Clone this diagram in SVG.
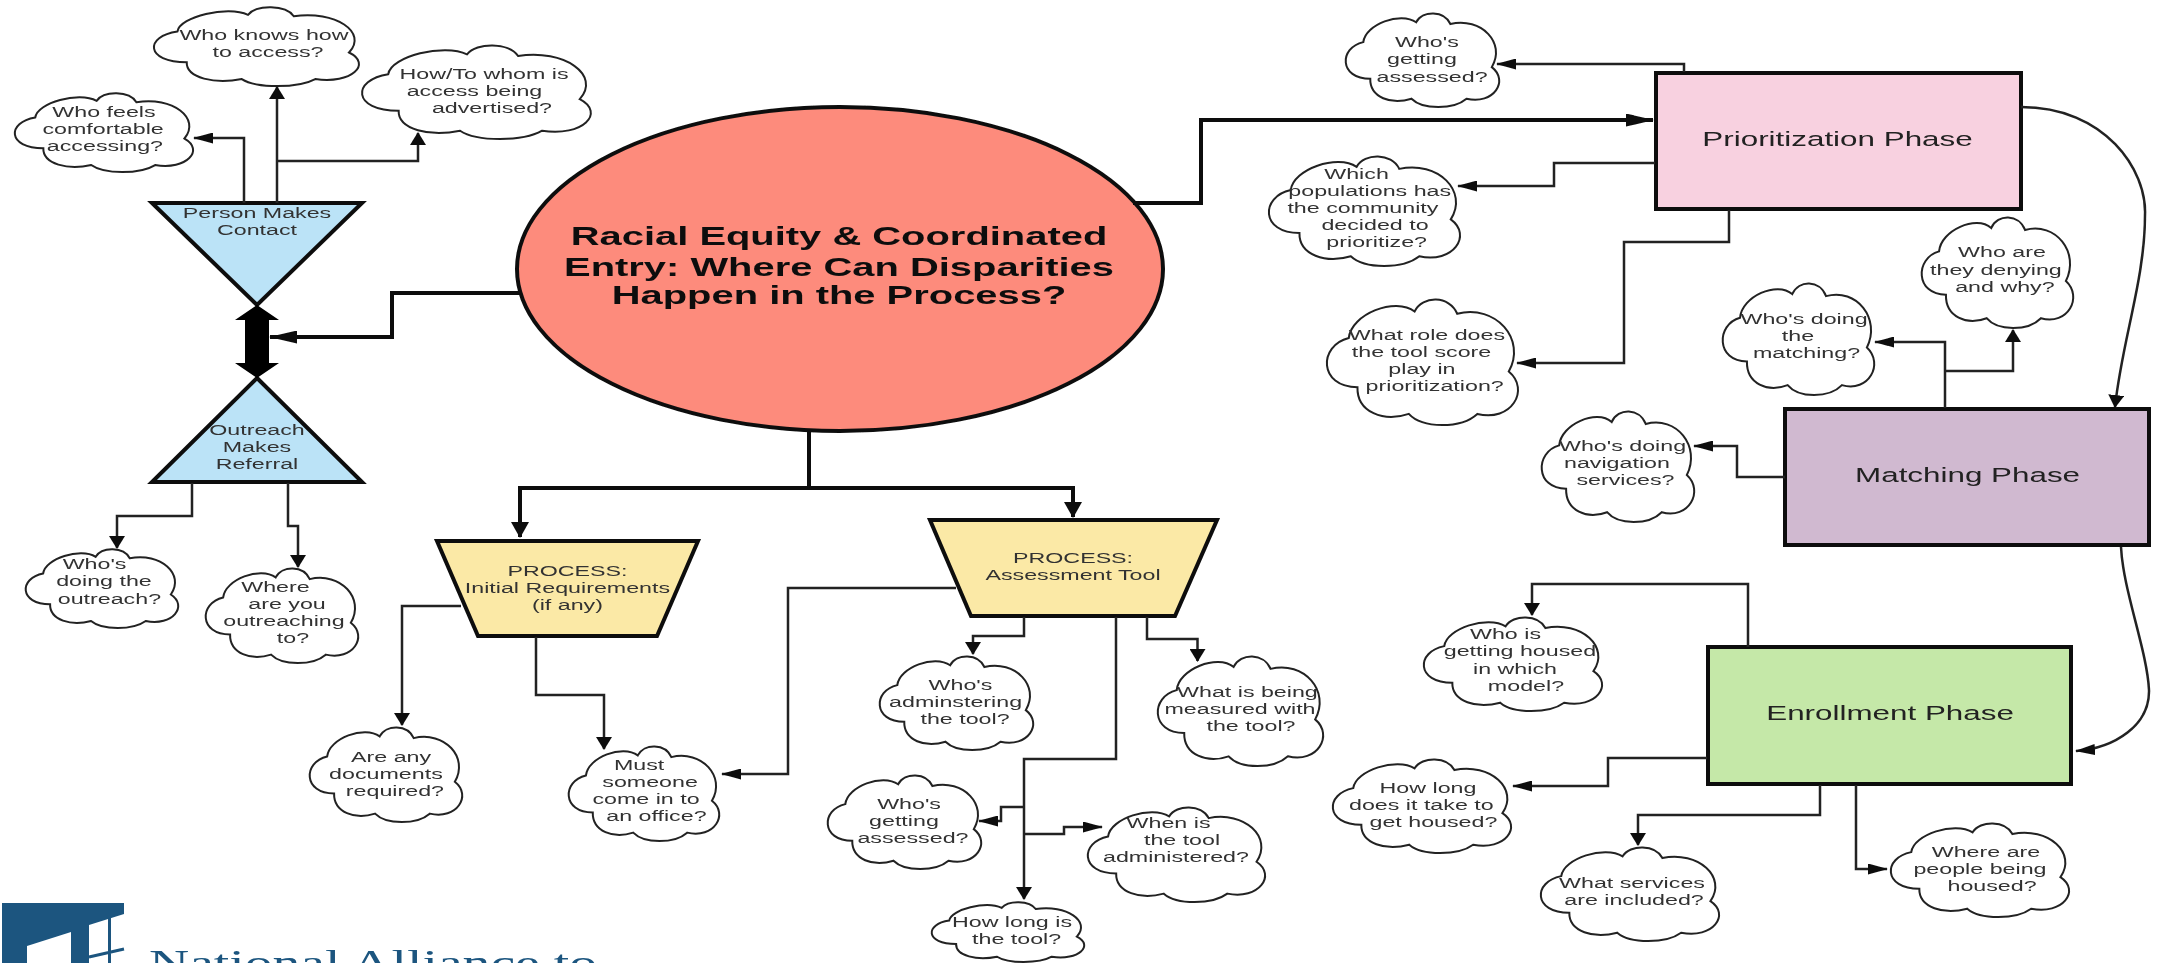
<svg xmlns="http://www.w3.org/2000/svg" width="2160" height="963" viewBox="0 0 2160 963">
<style>
text{font-family:"Liberation Sans",Arial,sans-serif;font-size:15px;fill:#333;text-anchor:middle}
.ph{font-size:20.25px;fill:#222}
.ti{font-size:25.75px;font-weight:bold;fill:#111}
.lg{font-family:"Liberation Serif","Times New Roman",serif;font-size:35.9px;fill:#1b557f;text-anchor:start}
.cl{fill:#fff;stroke:#222;stroke-width:2;vector-effect:non-scaling-stroke}
.sh{stroke:#111;stroke-width:4}
.c{fill:none;stroke:#222;stroke-width:2.5}
.b{fill:none;stroke:#111;stroke-width:4}
.h{marker-end:url(#mH)}.v{marker-end:url(#mV)}.hb{marker-end:url(#mHb)}.vb{marker-end:url(#mVb)}
</style>
<defs>
<path id="cloud" class="cl" d="M11.8,31C13,12 36,-2 45.9,9.9C50,-3 64,-3 68,11.7C88,4 104,32 94.7,57.6C106,72 96,98 78.4,91.2C70,103 50,103 42.9,91.2C30,98 16,90 16.3,70C-4,70 -4,37 11.8,31Z"/>
<marker id="mH" markerUnits="userSpaceOnUse" markerWidth="20" markerHeight="11" viewBox="0 0 20 11" refX="19" refY="5.5" orient="auto"><path d="M0,0L20,5.5L0,11Z" fill="#111"/></marker>
<marker id="mV" markerUnits="userSpaceOnUse" markerWidth="13" markerHeight="16" viewBox="0 0 13 16" refX="12" refY="8" orient="auto"><path d="M0,0L13,8L0,16Z" fill="#111"/></marker>
<marker id="mHb" markerUnits="userSpaceOnUse" markerWidth="28" markerHeight="13" viewBox="0 0 28 13" refX="27" refY="6.5" orient="auto"><path d="M0,0L28,6.5L0,13Z" fill="#111"/></marker>
<marker id="mVb" markerUnits="userSpaceOnUse" markerWidth="16" markerHeight="18" viewBox="0 0 16 18" refX="15" refY="9" orient="auto"><path d="M0,0L16,9L0,18Z" fill="#111"/></marker>
<filter id="soft" filterUnits="userSpaceOnUse" x="0" y="0" width="2160" height="963"><feGaussianBlur stdDeviation="0.7 0.5"/></filter>
</defs>
<rect width="2160" height="963" fill="#fff"/>
<g filter="url(#soft)">
<g id="node-title"><ellipse cx="840" cy="269" rx="323" ry="162" fill="#fd8b7c" class="sh"/><text class="ti" transform="scale(1.55 1)"><tspan x="541.3" y="245">Racial Equity &amp; Coordinated</tspan><tspan x="541.3" y="276">Entry: Where Can Disparities</tspan><tspan x="541.3" y="304">Happen in the Process?</tspan></text></g>
<g id="node-person"><polygon points="152,203 362,203 257,305" fill="#bbe3f7" class="sh"/><text transform="scale(1.55 1)"><tspan x="165.8" y="218">Person Makes</tspan><tspan x="165.8" y="235.5">Contact</tspan></text></g>
<g id="node-outreach"><polygon points="257,378 362,482 152,482" fill="#bbe3f7" class="sh"/><text transform="scale(1.55 1)"><tspan x="165.8" y="435">Outreach</tspan><tspan x="165.8" y="452">Makes</tspan><tspan x="165.8" y="469">Referral</tspan></text></g>
<g id="node-initial"><polygon points="437,541 698,541 657,636 478,636" fill="#fbe9a6" class="sh"/><text transform="scale(1.55 1)"><tspan x="366.1" y="576">PROCESS:</tspan><tspan x="366.1" y="593">Initial Requirements</tspan><tspan x="366.1" y="610">(if any)</tspan></text></g>
<g id="node-assessment"><polygon points="930,520 1217,520 1175,616 971,616" fill="#fbe9a6" class="sh"/><text transform="scale(1.55 1)"><tspan x="692.3" y="563">PROCESS:</tspan><tspan x="692.3" y="580">Assessment Tool</tspan></text></g>
<g id="node-prioritization"><rect x="1656" y="73" width="365" height="136" fill="#f8d1e0" class="sh"/><text class="ph" transform="scale(1.55 1)" x="1185.5" y="146">Prioritization Phase</text></g>
<g id="node-matching"><rect x="1785" y="409" width="364" height="136" fill="#d0b9d0" class="sh"/><text class="ph" transform="scale(1.55 1)" x="1269.4" y="482">Matching Phase</text></g>
<g id="node-enrollment"><rect x="1708" y="647" width="363" height="137" fill="#c5e8a8" class="sh"/><text class="ph" transform="scale(1.55 1)" x="1219.4" y="720">Enrollment Phase</text></g>

<g id="cloud-knows"><use href="#cloud" transform="translate(153 7) scale(2.07 .79)"/><text transform="scale(1.55 1)"><tspan x="170.3" y="40">Who knows how</tspan><tspan x="172.9" y="57">to access?</tspan></text></g>
<g id="cloud-advertised"><use href="#cloud" transform="translate(361 45) scale(2.31 .94)"/><text transform="scale(1.55 1)"><tspan x="312.3" y="79">How/To whom is</tspan><tspan x="306.1" y="96.5">access being</tspan><tspan x="317.4" y="113.5">advertised?</tspan></text></g>
<g id="cloud-feels"><use href="#cloud" transform="translate(14 93) scale(1.8 .79)"/><text transform="scale(1.55 1)"><tspan x="67.1" y="117">Who feels</tspan><tspan x="66.5" y="134.5">comfortable</tspan><tspan x="67.7" y="151">accessing?</tspan></text></g>
<g id="cloud-doing"><use href="#cloud" transform="translate(25 549) scale(1.54 .79)"/><text transform="scale(1.55 1)"><tspan x="61" y="569">Who's</tspan><tspan x="67.1" y="586.5">doing the</tspan><tspan x="70.6" y="604">outreach?</tspan></text></g>
<g id="cloud-where"><use href="#cloud" transform="translate(205 568) scale(1.54 .95)"/><text transform="scale(1.55 1)"><tspan x="177.7" y="592">Where</tspan><tspan x="185.2" y="609">are you</tspan><tspan x="183.2" y="626">outreaching</tspan><tspan x="189" y="643">to?</tspan></text></g>
<g id="cloud-docs"><use href="#cloud" transform="translate(309 727) scale(1.54 .95)"/><text transform="scale(1.55 1)"><tspan x="252.3" y="762">Are any</tspan><tspan x="249" y="779">documents</tspan><tspan x="254.8" y="796">required?</tspan></text></g>
<g id="cloud-office"><use href="#cloud" transform="translate(568 746) scale(1.52 .95)"/><text transform="scale(1.55 1)"><tspan x="412.3" y="770">Must</tspan><tspan x="419.4" y="787">someone</tspan><tspan x="416.8" y="804">come in to</tspan><tspan x="423.5" y="821">an office?</tspan></text></g>
<g id="cloud-admin"><use href="#cloud" transform="translate(879 656) scale(1.55 .94)"/><text transform="scale(1.55 1)"><tspan x="619.7" y="690">Who's</tspan><tspan x="616.5" y="707">adminstering</tspan><tspan x="622.6" y="724">the tool?</tspan></text></g>
<g id="cloud-measured"><use href="#cloud" transform="translate(1157 656) scale(1.67 1.1)"/><text transform="scale(1.55 1)"><tspan x="804.8" y="697">What is being</tspan><tspan x="800" y="714">measured with</tspan><tspan x="807.1" y="731">the tool?</tspan></text></g>
<g id="cloud-getting"><use href="#cloud" transform="translate(827 775) scale(1.55 .94)"/><text transform="scale(1.55 1)"><tspan x="586.5" y="809">Who's</tspan><tspan x="583.2" y="826">getting</tspan><tspan x="589" y="843">assessed?</tspan></text></g>
<g id="cloud-when"><use href="#cloud" transform="translate(1087 807) scale(1.79 .95)"/><text transform="scale(1.55 1)"><tspan x="753.9" y="828">When is</tspan><tspan x="762.6" y="845">the tool</tspan><tspan x="758.7" y="862">administered?</tspan></text></g>
<g id="cloud-length"><use href="#cloud" transform="translate(931 902) scale(1.54 .6)"/><text transform="scale(1.55 1)"><tspan x="652.9" y="927">How long is</tspan><tspan x="655.9" y="944">the tool?</tspan></text></g>
<g id="cloud-assessed"><use href="#cloud" transform="translate(1345 13) scale(1.55 .94)"/><text transform="scale(1.55 1)"><tspan x="920.6" y="47">Who's</tspan><tspan x="917.4" y="64">getting</tspan><tspan x="923.9" y="82">assessed?</tspan></text></g>
<g id="cloud-populations"><use href="#cloud" transform="translate(1268 156) scale(1.93 1.1)"/><text transform="scale(1.55 1)"><tspan x="875.2" y="179">Which</tspan><tspan x="883.7" y="196">populations has</tspan><tspan x="879.3" y="213">the community</tspan><tspan x="887.1" y="230">decided to</tspan><tspan x="888.2" y="247">prioritize?</tspan></text></g>
<g id="cloud-role"><use href="#cloud" transform="translate(1326 299) scale(1.93 1.26)"/><text transform="scale(1.55 1)"><tspan x="920.6" y="340">What role does</tspan><tspan x="917.1" y="357">the tool score</tspan><tspan x="917.4" y="374">play in</tspan><tspan x="925.6" y="391">prioritization?</tspan></text></g>
<g id="cloud-denying"><use href="#cloud" transform="translate(1921 217) scale(1.53 1.11)"/><text transform="scale(1.55 1)"><tspan x="1291.6" y="257.5">Who are</tspan><tspan x="1287.7" y="275">they denying</tspan><tspan x="1293.5" y="292">and why?</tspan></text></g>
<g id="cloud-matching"><use href="#cloud" transform="translate(1722 283) scale(1.53 1.12)"/><text transform="scale(1.55 1)"><tspan x="1163.9" y="324">Who's doing</tspan><tspan x="1160" y="341">the</tspan><tspan x="1165.5" y="358">matching?</tspan></text></g>
<g id="cloud-navigation"><use href="#cloud" transform="translate(1541 411) scale(1.54 1.11)"/><text transform="scale(1.55 1)"><tspan x="1046.8" y="451">Who's doing</tspan><tspan x="1043.2" y="468">navigation</tspan><tspan x="1048.7" y="485">services?</tspan></text></g>
<g id="cloud-model"><use href="#cloud" transform="translate(1423 617) scale(1.8 .94)"/><text transform="scale(1.55 1)"><tspan x="971.3" y="639">Who is</tspan><tspan x="980.6" y="656.5">getting housed</tspan><tspan x="977.4" y="674">in which</tspan><tspan x="984.5" y="691">model?</tspan></text></g>
<g id="cloud-time"><use href="#cloud" transform="translate(1332 759) scale(1.8 .94)"/><text transform="scale(1.55 1)"><tspan x="921.3" y="793">How long</tspan><tspan x="917" y="810">does it take to</tspan><tspan x="924.8" y="827">get housed?</tspan></text></g>
<g id="cloud-services"><use href="#cloud" transform="translate(1540 847) scale(1.8 .94)"/><text transform="scale(1.55 1)"><tspan x="1052.9" y="888">What services</tspan><tspan x="1054.2" y="905">are included?</tspan></text></g>
<g id="cloud-people"><use href="#cloud" transform="translate(1890 823) scale(1.8 .94)"/><text transform="scale(1.55 1)"><tspan x="1281.3" y="857">Where are</tspan><tspan x="1277.4" y="874">people being</tspan><tspan x="1285.2" y="891">housed?</tspan></text></g>

<g id="logo"><polygon points="2,903 124,903 124,914 89,925 89,963 2,963" fill="#1b557f"/><polygon points="27,946 71,932 71,963 27,963" fill="#fff"/><path d="M109.5,915V963M89,957L124,949" fill="none" stroke="#1b557f" stroke-width="3"/><text class="lg" transform="scale(1.55 1)" x="96.1" y="975.5">National Alliance to</text></g>

<g id="connectors">
<polygon points="257,305 279,320 269,320 269,363 279,363 257,378 235,363 245,363 245,320 235,320" fill="#000"/>
<path class="b hb" d="M520,293H392V337H270"/>
<path class="b hb" d="M1133,203H1201V120H1653"/>
<path class="b vb" d="M809,431V488H520V537"/>
<path class="b vb" d="M809,488H1073V517"/>
<path class="c h" d="M244,203V138H194"/>
<path class="c v" d="M277,203V87"/>
<path class="c v" d="M277,161H418V133"/>
<path class="c v" d="M192,483V516H117V548"/>
<path class="c v" d="M288,483V526H298V567"/>
<path class="c v" d="M461,606H402V725"/>
<path class="c v" d="M536,637V695H604V749"/>
<path class="c h" d="M956,588H788V774H722"/>
<path class="c v" d="M1024,617V636H973V654"/>
<path class="c v" d="M1147,617V639H1197.5V661"/>
<path class="c v" d="M1116,617V759H1024V899"/>
<path class="c h" d="M1024,807H1001V821H979"/>
<path class="c h" d="M1024,834H1064V827H1102"/>
<path class="c h" d="M1684,72V64H1497"/>
<path class="c h" d="M1655,163H1554V186H1458"/>
<path class="c h" d="M1729,210V242H1624V363H1517"/>
<path class="c h" d="M1945,408V342H1875"/>
<path class="c v" d="M1945,371H2013V330"/>
<path class="c h" d="M1785,477H1737V446H1694"/>
<path class="c v" d="M2021,107C2105,107 2147,170 2145,215C2145,280 2122,340 2115,407"/>
<path class="c h" d="M2121,547C2123,590 2147,650 2149,690C2150,725 2115,748 2076,751"/>
<path class="c v" d="M1748,647V584H1532V615"/>
<path class="c h" d="M1707,758H1608V786H1513"/>
<path class="c v" d="M1820,785V815H1638V845"/>
<path class="c h" d="M1856,785V869H1887"/>
</g>
</g>
</svg>
